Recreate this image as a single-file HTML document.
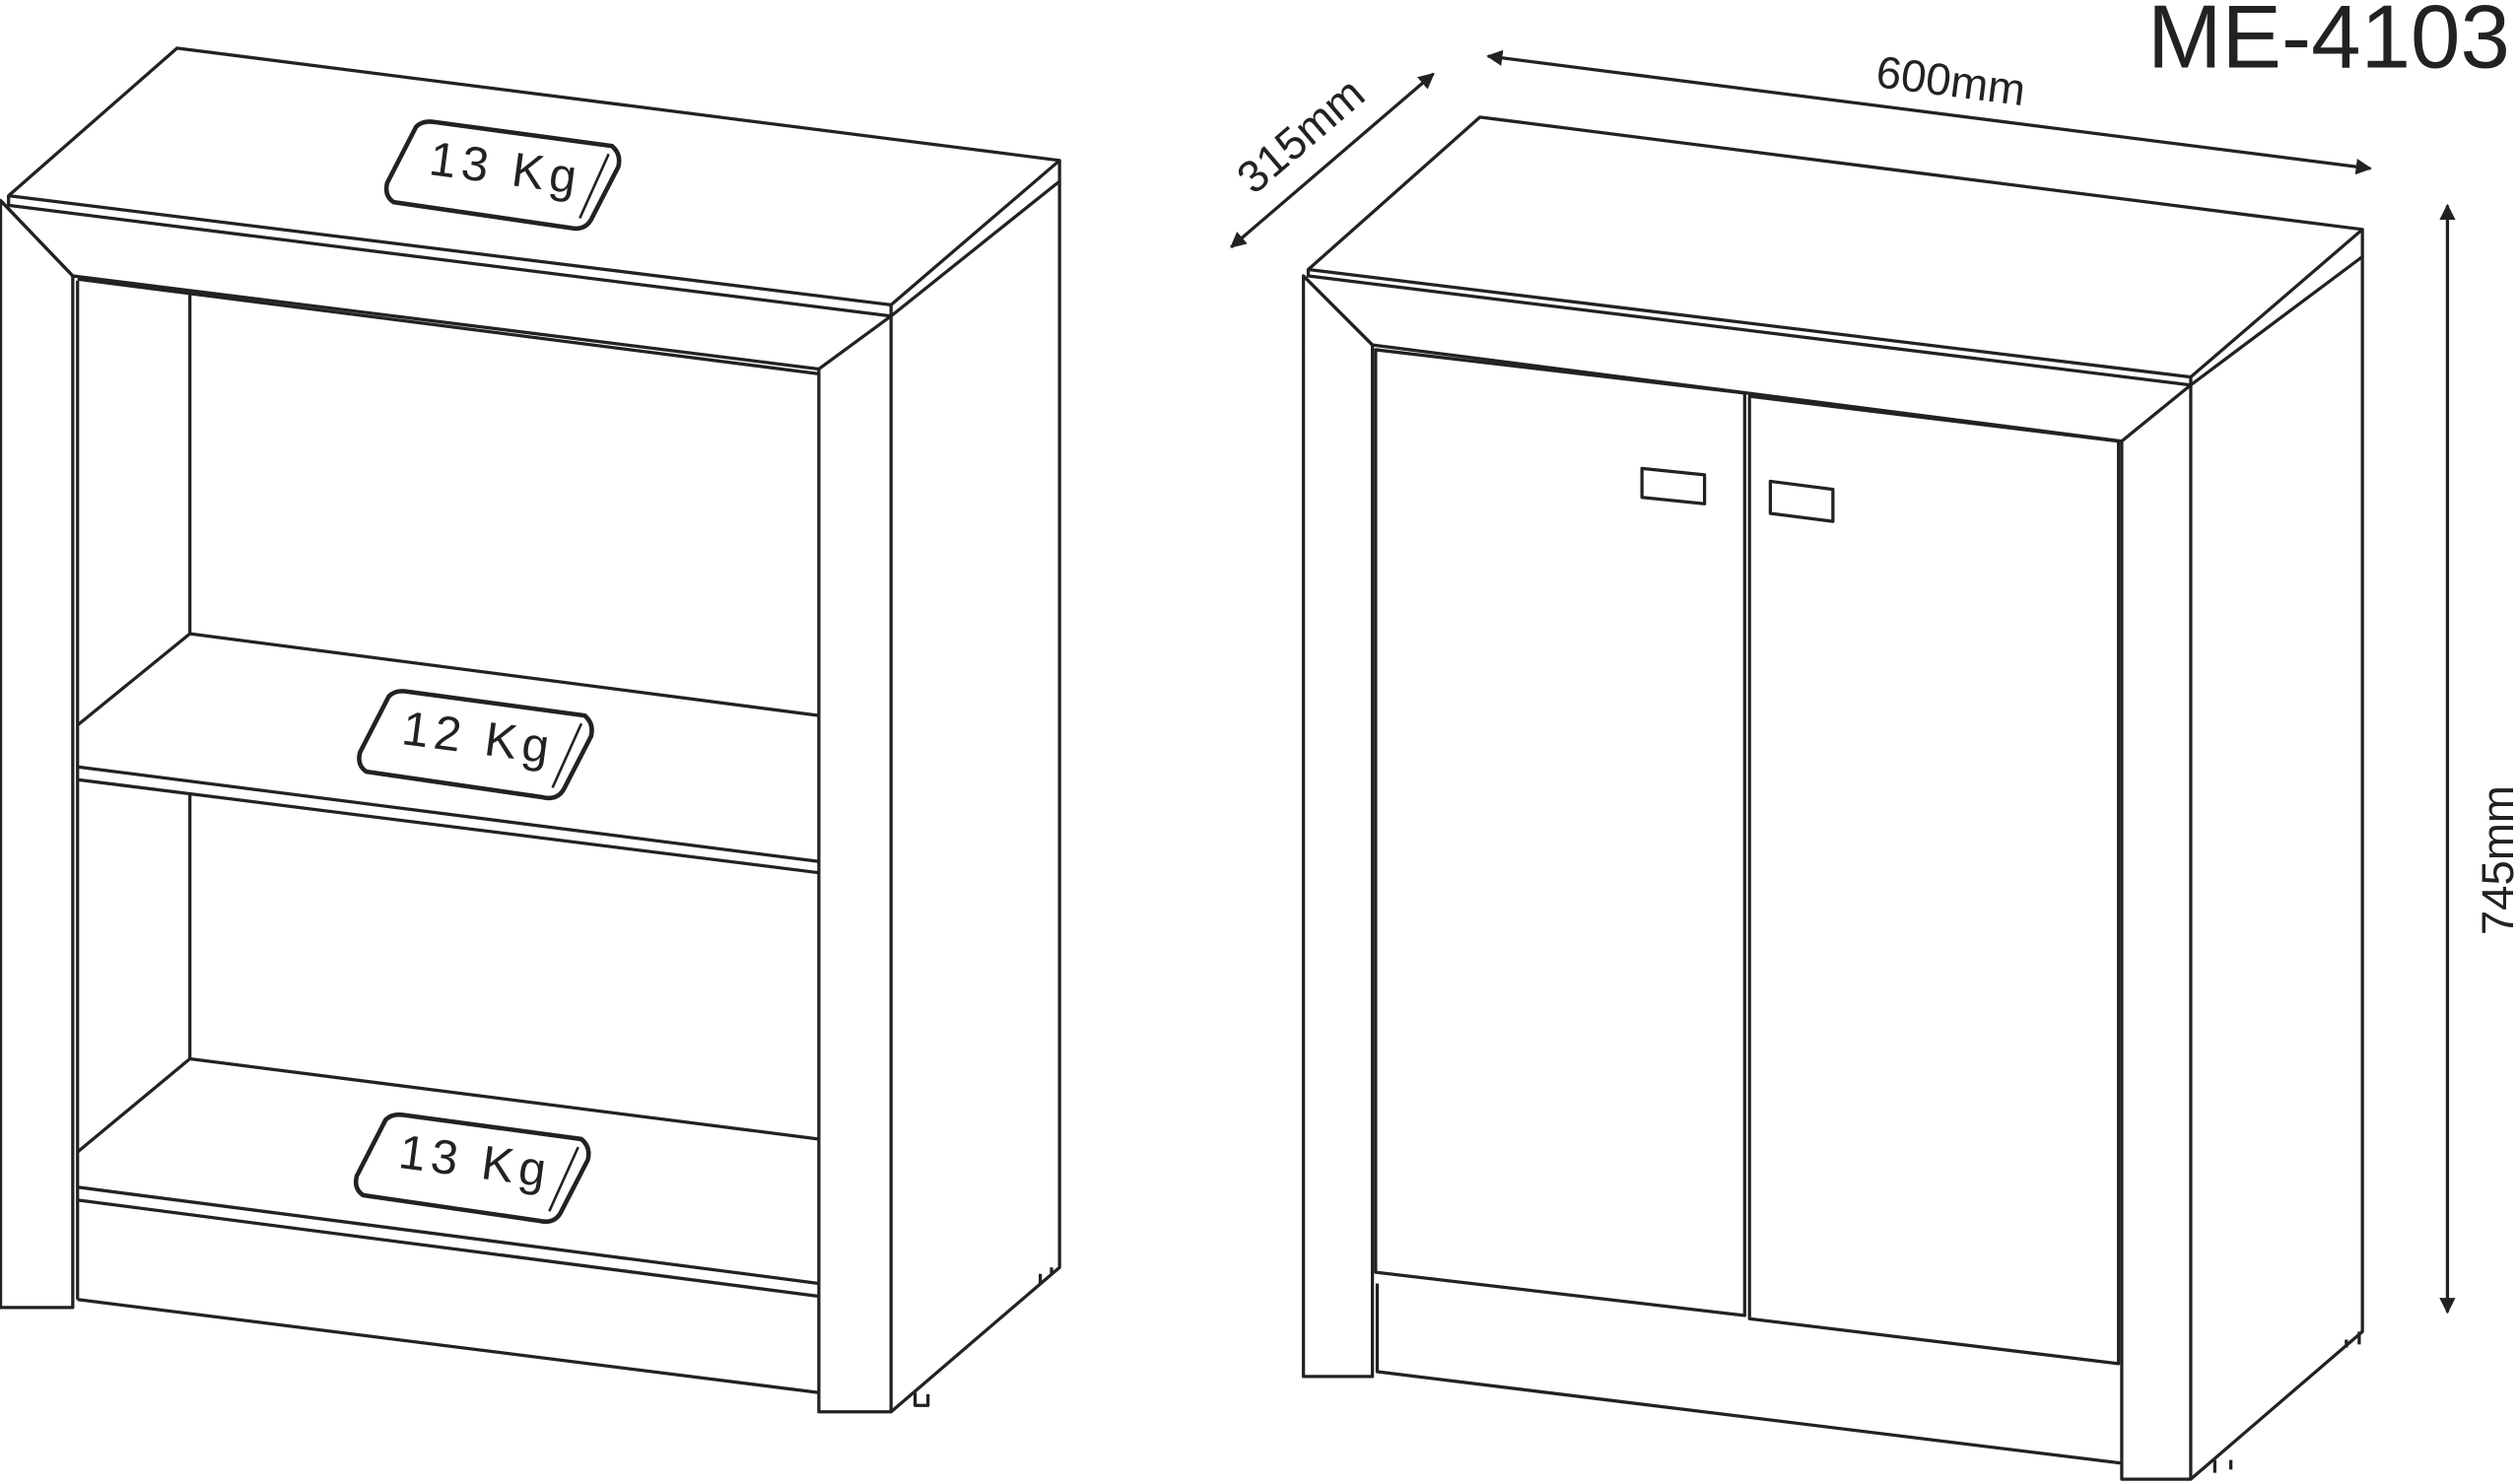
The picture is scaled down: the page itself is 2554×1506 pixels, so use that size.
<!DOCTYPE html>
<html><head><style>html,body{margin:0;padding:0;background:#fff}svg{display:block}</style></head><body>
<svg width="2554" height="1506" viewBox="0 0 1568 925" xmlns="http://www.w3.org/2000/svg">
<defs>
<marker id="a" viewBox="0 0 10 10" refX="9" refY="5" markerWidth="5" markerHeight="5" orient="auto-start-reverse"><path d="M0,0 L10,5 L0,10 z" fill="#222"/></marker>
<g id="badge">
<path d="M-45,-30 L66,-15 Q72,-10 70,-2 L53,31 Q49,38 40,36 L-70,20 Q-76,16 -74,8 L-56,-27 Q-52,-31 -45,-30 z" fill="#fff" stroke="#222" stroke-width="2.8"/>
<path d="M64,-10 L46,30" stroke="#222" stroke-width="1.6"/>
</g>
</defs>
<g fill="none" stroke="#222" stroke-width="2" stroke-linejoin="round">
<path d="M110,30 L660,100 L555,190 L5,122 Z"/>
<path d="M5,122 L5,128 L555,197 L555,190"/>
<path d="M555,197 L660,113 L660,100"/>
<path d="M660,113 L660,790 L555,880"/>
<path d="M0,125 L0,815 L45,815 L45,172 Z"/>
<path d="M0,125 L45,172 L510,230 L555,197"/>
<path d="M510,230 L510,880 L555,880 L555,197"/>
<path d="M48,175 L48,810"/>
<path d="M118,182 L118,395"/>
<path d="M48,174 L510,233"/>
<path d="M118,395 L510,446 M48,452 L118,395 M48,478 L510,537 M48,486 L510,544"/>
<path d="M118,495 L118,660"/>
<path d="M118,660 L510,710 M48,718 L118,660 M48,740 L510,800 M48,748 L510,808 M48,810 L510,868"/>
<path d="M570,868 L570,876 L578,876 L578,869 M648,800 L648,794 M655,794 L655,790"/>
<path d="M922,73 L1472,143 L1365,235 L815,168 Z"/>
<path d="M815,168 L815,172 L1365,240 L1365,235"/>
<path d="M1365,240 L1472,160 L1472,143"/>
<path d="M1472,160 L1472,830 L1365,922"/>
<path d="M812,172 L812,858 L855,858 L855,215 Z"/>
<path d="M812,172 L855,215 L1322,275 L1365,240"/>
<path d="M1322,275 L1322,922 L1365,922 L1365,240"/>
<path d="M857,218 L1087,245 L1087,820 L857,793 Z"/>
<path d="M1090,247 L1320,275 L1320,850 L1090,822 Z"/>
<path d="M858,800 L858,855 L1322,912"/>
<path d="M1023,292 L1062,296 L1062,314 L1023,310 Z"/>
<path d="M1103,300 L1142,305 L1142,325 L1103,320 Z"/>
<path d="M1380,910 L1380,918 M1390,910 L1390,916 M1462,835 L1462,840 M1470,830 L1470,838"/>
<line x1="767" y1="154" x2="893" y2="46" marker-start="url(#a)" marker-end="url(#a)"/>
<line x1="927" y1="35" x2="1477" y2="105" marker-start="url(#a)" marker-end="url(#a)"/>
<line x1="1525" y1="128" x2="1525" y2="818" marker-start="url(#a)" marker-end="url(#a)"/>
</g>
<g font-family="Liberation Sans, sans-serif" fill="#222">
<text x="1338" y="42" font-size="56" textLength="226" lengthAdjust="spacingAndGlyphs">ME-4103</text>
<text x="0" y="0" font-size="28" transform="translate(1168,54) rotate(7.3)">600mm</text>
<text x="0" y="0" font-size="28" transform="translate(781,122) rotate(-40.5)">315mm</text>
<text x="0" y="0" font-size="28" transform="translate(1566,583) rotate(-90)">745mm</text>
</g>
<g font-family="Liberation Sans, sans-serif" font-size="30" fill="#222">
<g transform="translate(315,106)"><use href="#badge"/><text x="-48" y="9" transform="rotate(7.5)" textLength="92">13  Kg</text></g>
<g transform="translate(298,461)"><use href="#badge"/><text x="-48" y="9" transform="rotate(7.5)" textLength="92">12  Kg</text></g>
<g transform="translate(296,725)"><use href="#badge"/><text x="-48" y="9" transform="rotate(7.5)" textLength="92">13  Kg</text></g>
</g>
</svg>
</body></html>
